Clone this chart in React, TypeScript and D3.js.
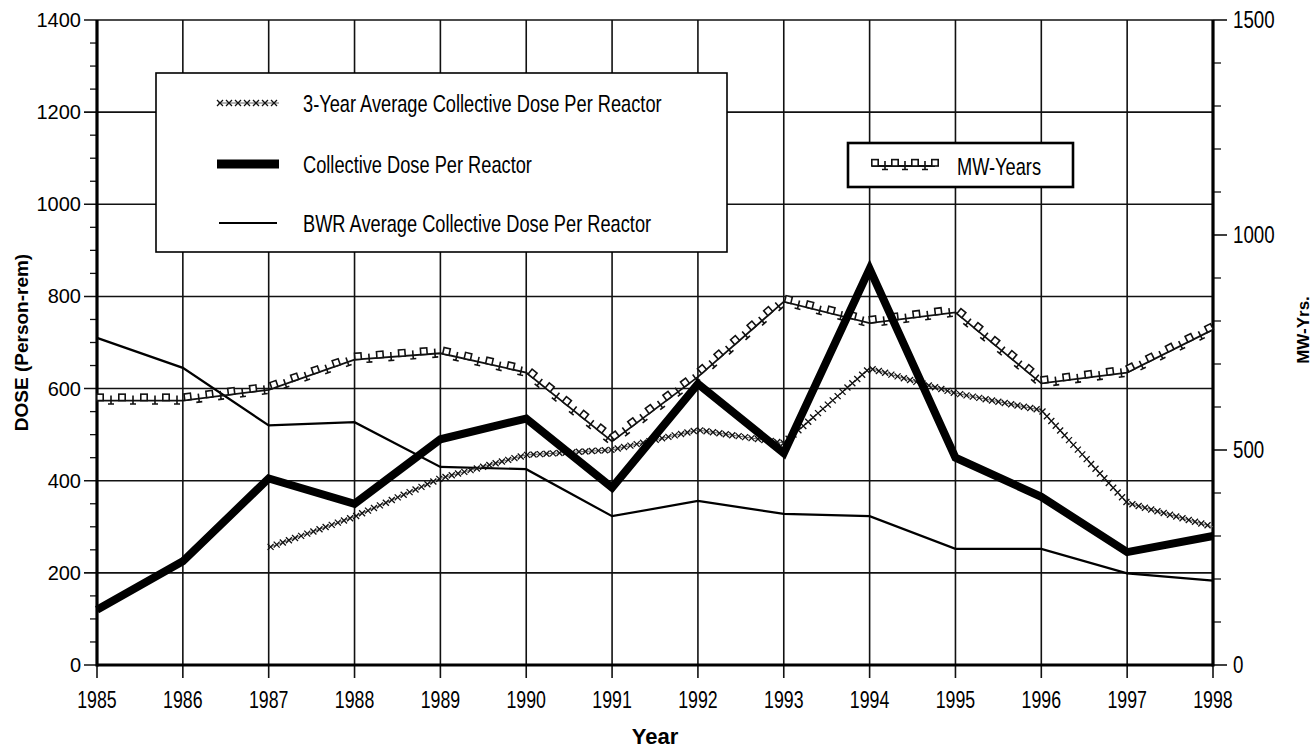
import React from 'react';
import * as d3 from 'd3';

const years = [1985, 1986, 1987, 1988, 1989, 1990, 1991, 1992, 1993, 1994, 1995, 1996, 1997, 1998];
const collectiveDose = [120, 225, 405, 350, 490, 535, 385, 610, 460, 860, 450, 365, 245, 280];
const bwrAverage = [710, 645, 520, 527, 430, 425, 323, 356, 328, 323, 252, 252, 199, 183];
const threeYearYears = [1987, 1988, 1989, 1990, 1991, 1992, 1993, 1994, 1995, 1996, 1997, 1998];
const threeYearAverage = [255, 322, 405, 456, 467, 510, 482, 644, 590, 553, 352, 300];
const mwYears = [615, 615, 640, 710, 725, 680, 520, 670, 845, 795, 820, 655, 680, 780];
const leftTicks = [0, 200, 400, 600, 800, 1000, 1200, 1400];
const rightTicks = [0, 500, 1000, 1500];

const legendLabels = [
  '3-Year Average Collective Dose Per Reactor',
  'Collective Dose Per Reactor',
  'BWR Average Collective Dose Per Reactor',
];
const mwLabel = 'MW-Years';

type Pt = [number, number];

function along(pts: Pt[], step: number, offset = 0) {
  const out: { x: number; y: number; a: number }[] = [];
  let carry = offset;
  for (let i = 0; i < pts.length - 1; i++) {
    const [x0, y0] = pts[i];
    const [x1, y1] = pts[i + 1];
    const len = Math.hypot(x1 - x0, y1 - y0);
    const a = Math.atan2(y1 - y0, x1 - x0);
    let d = carry;
    while (d <= len) {
      const t = d / len;
      out.push({ x: x0 + (x1 - x0) * t, y: y0 + (y1 - y0) * t, a });
      d += step;
    }
    carry = d - len;
  }
  return out;
}

const SANS = '"Liberation Sans", Arial, Helvetica, sans-serif';

function NText({
  x,
  y,
  size,
  squeeze = 0.76,
  anchor = 'start',
  children,
}: {
  x: number;
  y: number;
  size: number;
  squeeze?: number;
  anchor?: string;
  children: React.ReactNode;
}) {
  return (
    <text
      transform={`translate(${x},${y}) scale(${squeeze},1)`}
      fontFamily={SANS}
      fontSize={size}
      textAnchor={anchor}
      fill="#000"
    >
      {children}
    </text>
  );
}

function Crosses({ pts, step }: { pts: Pt[]; step: number }) {
  const s = along(pts, step, 2);
  const h = 3;
  return (
    <g stroke="#111" strokeWidth={1.3} fill="none">
      <path d={d3.line()(pts) || ''} stroke="#666" strokeWidth={1} />
      {s.map((p, i) => (
        <path
          key={i}
          d={`M${p.x - h},${p.y - h}L${p.x + h},${p.y + h}M${p.x - h},${p.y + h}L${p.x + h},${p.y - h}`}
        />
      ))}
    </g>
  );
}

function SquaresLine({ pts, step }: { pts: Pt[]; step: number }) {
  const s = along(pts, step, 3);
  return (
    <g>
      <path d={d3.line()(pts) || ''} stroke="#111" strokeWidth={1.8} fill="none" />
      {s.map((p, i) => {
        const deg = (p.a * 180) / Math.PI;
        if (i % 2 === 0) {
          return (
            <rect
              key={i}
              x={-3.2}
              y={-6.4}
              width={6.4}
              height={6.4}
              fill="#fff"
              stroke="#111"
              strokeWidth={1.6}
              transform={`translate(${p.x},${p.y}) rotate(${deg})`}
            />
          );
        }
        return (
          <path
            key={i}
            d="M0,-5L0,3.5M-3,3.5L3,3.5"
            stroke="#111"
            strokeWidth={1.6}
            fill="none"
            transform={`translate(${p.x},${p.y}) rotate(${deg})`}
          />
        );
      })}
    </g>
  );
}

export default function App() {
  const W = 1316;
  const H = 750;
  const x = d3.scaleLinear().domain([1985, 1998]).range([97, 1213]);
  const yL = d3.scaleLinear().domain([0, 1400]).range([665, 20]);
  const yR = d3.scaleLinear().domain([0, 1500]).range([665, 20]);

  const dosePts: Pt[] = years.map((yr, i) => [x(yr), yL(collectiveDose[i])]);
  const bwrPts: Pt[] = years.map((yr, i) => [x(yr), yL(bwrAverage[i])]);
  const avgPts: Pt[] = threeYearYears.map((yr, i) => [x(yr), yL(threeYearAverage[i])]);
  const mwPts: Pt[] = years.map((yr, i) => [x(yr), yR(mwYears[i])]);
  const line = d3.line();

  const minorLeft = d3.range(0, 1401, 50).filter((v) => v % 200 !== 0);
  const minorRight = d3.range(0, 1501, 100).filter((v) => v % 500 !== 0);

  const [x0, x1] = x.range();
  const [yb, yt] = yL.range();

  return (
    <svg
      width={W}
      height={H}
      style={{ position: 'absolute', left: 0, top: 0, background: '#fff' }}
      xmlns="http://www.w3.org/2000/svg"
    >
      <rect x={0} y={0} width={W} height={H} fill="#fff" />
      {/* grid */}
      <g stroke="#111" strokeWidth={1.6}>
        {years.map((yr) => (
          <line key={yr} x1={x(yr)} x2={x(yr)} y1={yt} y2={yb + 13} />
        ))}
        {leftTicks.map((v) => (
          <line key={v} x1={x0 - 13} x2={x1} y1={yL(v)} y2={yL(v)} />
        ))}
        {minorLeft.map((v) => (
          <line key={'ml' + v} x1={x0 - 7} x2={x0} y1={yL(v)} y2={yL(v)} strokeWidth={1.3} />
        ))}
        {rightTicks.map((v) => (
          <line key={'r' + v} x1={x1} x2={x1 + 14} y1={yR(v)} y2={yR(v)} />
        ))}
        {minorRight.map((v) => (
          <line key={'mr' + v} x1={x1} x2={x1 + 8} y1={yR(v)} y2={yR(v)} strokeWidth={1.3} />
        ))}
      </g>
      {/* axes */}
      <g stroke="#000" strokeWidth={3.2}>
        <line x1={x0} x2={x0} y1={yt} y2={yb + 1.5} />
        <line x1={x1} x2={x1} y1={yt} y2={yb + 1.5} />
        <line x1={x0} x2={x1} y1={yb} y2={yb} />
      </g>

      {/* series */}
      <path d={line(bwrPts) || ''} fill="none" stroke="#000" strokeWidth={2.2} strokeLinejoin="miter" />
      <Crosses pts={avgPts} step={6.5} />
      <SquaresLine pts={mwPts} step={11} />
      <path d={line(dosePts) || ''} fill="none" stroke="#000" strokeWidth={8} strokeLinejoin="miter" />

      {/* tick labels */}
      <g fontFamily={SANS} fontSize={20} fill="#000" textAnchor="end">
        {leftTicks.map((v) => (
          <text key={v} x={81} y={yL(v) + 7}>
            {v}
          </text>
        ))}
      </g>
      {years.map((yr) => (
        <NText key={yr} x={x(yr)} y={708} size={24} squeeze={0.74} anchor="middle">
          {yr}
        </NText>
      ))}
      {rightTicks.map((v) => (
        <NText key={v} x={1233} y={yR(v) + 8} size={24} squeeze={0.78}>
          {v}
        </NText>
      ))}

      {/* axis titles */}
      <text x={655} y={744} textAnchor="middle" fontFamily={SANS} fontWeight="bold" fontSize={22}>
        Year
      </text>
      <text
        transform={`translate(28,${(yt + yb) / 2}) rotate(-90)`}
        textAnchor="middle"
        fontFamily={SANS}
        fontWeight="bold"
        fontSize={19}
      >
        DOSE (Person-rem)
      </text>
      <text
        transform={`translate(1309,330) rotate(-90)`}
        textAnchor="middle"
        fontFamily={SANS}
        fontWeight="bold"
        fontSize={17}
      >
        MW-Yrs.
      </text>

      {/* main legend */}
      <g>
        <rect x={156} y={73} width={571} height={179} fill="#fff" stroke="#000" strokeWidth={1.6} />
        <Crosses pts={[[218, 103], [279, 103]]} step={9} />
        <line x1={217} x2={279} y1={164} y2={164} stroke="#000" strokeWidth={9} />
        <line x1={219} x2={277} y1={223} y2={223} stroke="#000" strokeWidth={2} />
        {legendLabels.map((t, i) => (
          <NText key={t} x={303} y={[103, 164, 223][i] + 8.5} size={24}>
            {t}
          </NText>
        ))}
      </g>

      {/* MW legend */}
      <g>
        <rect x={848} y={143} width={225} height={44} fill="#fff" stroke="#000" strokeWidth={2.6} />
        <SquaresLine pts={[[872, 166], [935, 166]]} step={10} />
        <NText x={957} y={174.5} size={24}>
          {mwLabel}
        </NText>
      </g>
    </svg>
  );
}
